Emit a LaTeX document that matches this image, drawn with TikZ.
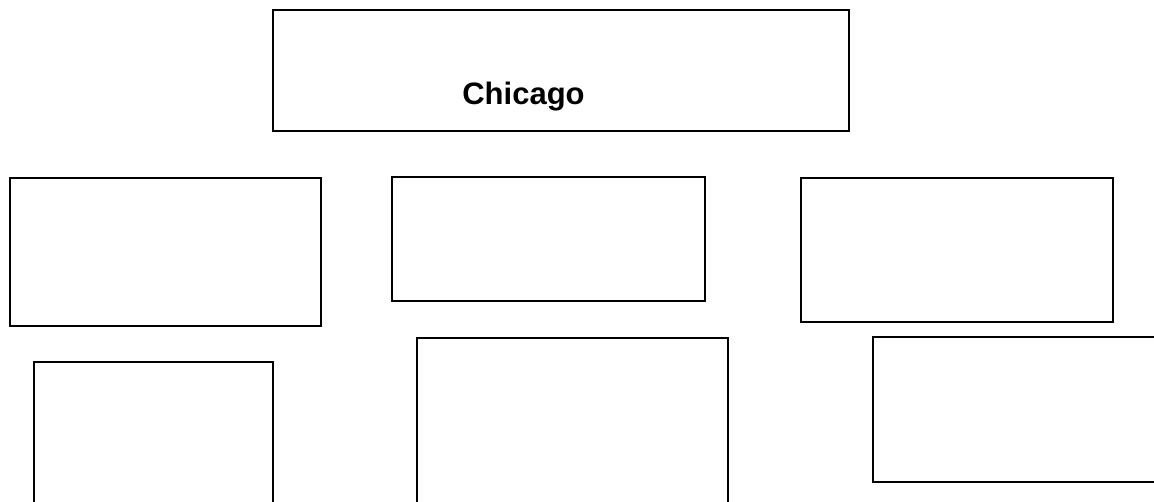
\documentclass[tikz,border=0pt]{standalone}
\usepackage{fontspec}
\setmainfont{Liberation Sans}
\begin{document}
\begin{tikzpicture}[x=1pt,y=-1pt,
  box/.style={draw=black, line width=1.7pt, fill=none, inner sep=0pt, outer sep=0pt, rectangle, anchor=north west},
  thickbox/.style={box, line width=2.6pt},
  title/.style={font=\fontsize{31}{37}\selectfont\bfseries, anchor=base, inner sep=0pt}]
\useasboundingbox (0,0) rectangle (1154,501);
\clip (0,0) rectangle (1154,501);
\fill[white] (0,0) rectangle (1154,501);
% top box
\node[box, minimum width=576pt, minimum height=121pt] (top) at (273,10) {};
\node[title] (chicago) at (523.5,104) {Chicago};
% row 2
\node[box, minimum width=311pt, minimum height=148pt] (r2a) at (10,178) {};
\node[thickbox, minimum width=313pt, minimum height=124pt] (r2b) at (392,177) {};
\node[box, minimum width=312pt, minimum height=144pt] (r2c) at (801,178) {};
% row 3
\node[box, minimum width=239pt, minimum height=160pt] (r3a) at (34,362) {};
\node[box, minimum width=311pt, minimum height=184pt] (r3b) at (417,338) {};
\node[box, minimum width=300pt, minimum height=145pt] (r3c) at (873,337) {};
\end{tikzpicture}
\end{document}
